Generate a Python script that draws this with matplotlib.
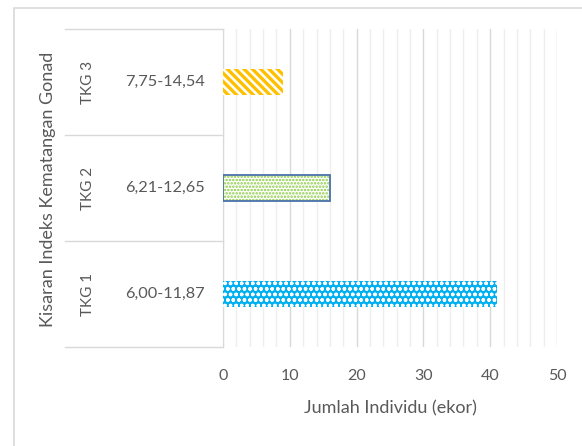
import matplotlib.pyplot as plt
import matplotlib.patches as patches
import numpy as np

# categories from bottom to top
kelas = ['TKG 1', 'TKG 2', 'TKG 3']
kisaran = ['6,00-11,87', '6,21-12,65', '7,75-14,54']
jumlah = [41, 16, 9]

plt.rcParams['font.family'] = ['Lato', 'DejaVu Sans']
teks = '#595959'

fig = plt.figure(figsize=(5.82, 4.46), dpi=100)
ax = fig.add_axes([223/582, 1-347/446, 334/582, 318/446])

y = np.arange(len(kelas))
h = 0.25


def hatched(i, face, hcol, pattern, lw):
    with plt.rc_context({'hatch.linewidth': lw}):
        b = ax.barh(y[i], jumlah[i], h, color=face, edgecolor=hcol, hatch=pattern,
                    linewidth=0, zorder=3)
    for p in b:
        if hasattr(p, 'set_hatch_linewidth'):
            p.set_hatch_linewidth(lw)
    return b


# TKG 1: blue with white circles
hatched(0, '#00B0F0', 'white', 'ooo', 1.0)
# TKG 2: green dots, blue-gray outline
hatched(1, 'white', '#8CCB45', '.....', 1.2)
ax.barh(y[1], jumlah[1], h, fill=False, edgecolor='#4A72A8', linewidth=1.3, zorder=4)
# TKG 3: orange stripes
hatched(2, 'white', '#FFC000', '\\\\\\\\', 2.4)

ax.set_xlim(0, 50)
ax.set_ylim(-0.5, 2.5)
ax.set_xticks(np.arange(0, 51, 10))
ax.set_xticks(np.arange(0, 51, 2), minor=True)
ax.grid(axis='x', which='major', color='#D9D9D9', linewidth=1)
ax.grid(axis='x', which='minor', color='#EFEFEF', linewidth=1)
ax.set_axisbelow(True)
ax.tick_params(axis='x', which='both', length=0, pad=16, labelsize=11.5, labelcolor=teks)
ax.set_yticks([])
for s in ['top', 'right', 'bottom']:
    ax.spines[s].set_visible(False)
ax.spines['left'].set_color('#D9D9D9')

# two-level category axis
tr = ax.get_yaxis_transform()
for yy in [-0.5, 0.5, 1.5, 2.5]:
    ax.plot([-0.473, 0], [yy, yy], color='#D9D9D9', linewidth=1, transform=tr, clip_on=False)
for i in range(len(kelas)):
    ax.text(-0.404, y[i], kelas[i], rotation=90, ha='center', va='center',
            fontsize=11, color=teks, transform=tr)
    ax.text(-0.174, y[i], kisaran[i], ha='center', va='center',
            fontsize=11.8, color=teks, transform=tr)

ax.set_xlabel('Jumlah Individu (ekor)', fontsize=13, color=teks, labelpad=12)
fig.text(48/582, 1-189/446, 'Kisaran Indeks Kematangan Gonad', rotation=90,
         ha='center', va='center', fontsize=13, color=teks)

# chart border
fig.patches.append(patches.Rectangle((13.5/582, -0.1), 1.2, 1-7.5/446+0.1,
                                     transform=fig.transFigure, fill=False,
                                     edgecolor='#D9D9D9', linewidth=1.2))

fig.savefig('out.png', dpi=100)
